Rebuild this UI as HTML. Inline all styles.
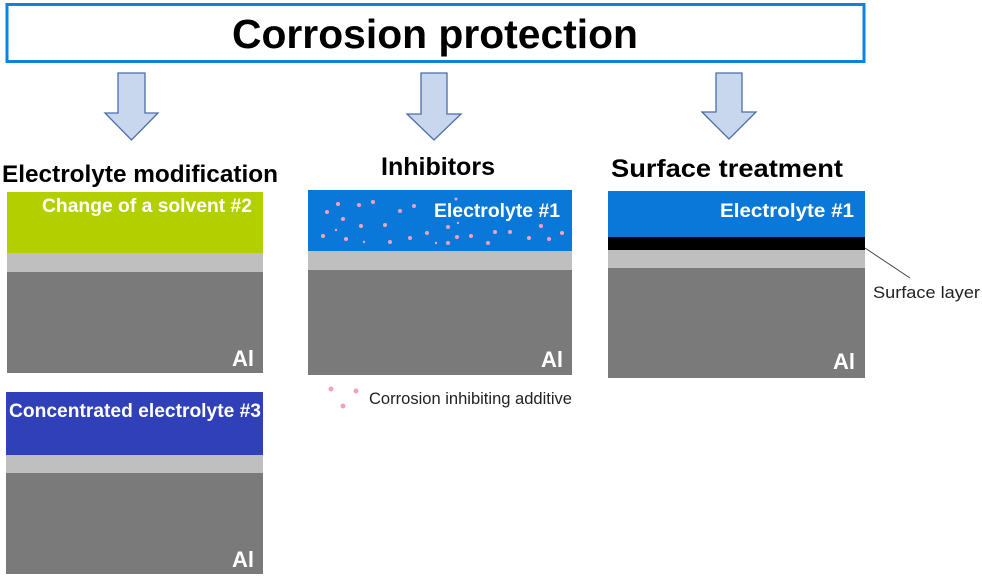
<!DOCTYPE html>
<html><head><style>html,body{margin:0;padding:0;background:#fff}svg{display:block}</style></head>
<body>
<svg width="982" height="576" viewBox="0 0 982 576" xmlns="http://www.w3.org/2000/svg" font-family="Liberation Sans, Arial, sans-serif">
<rect x="7" y="4.5" width="857" height="57" fill="#fff" stroke="#0a84e0" stroke-width="3"/>
<text x="232" y="48" font-size="41" font-weight="bold" fill="#000" textLength="406" lengthAdjust="spacingAndGlyphs">Corrosion protection</text>
<g fill="#c8d6ee" stroke="#4a6ea8" stroke-width="1.3">
<polygon points="118,73 145,73 145,113 158,113 131.5,140 105,113 118,113"/>
<polygon points="421,73 447,73 447,114 461,114 434,140 407,114 421,114"/>
<polygon points="716,73 742,73 742,112 756,112 729,139 702,112 716,112"/>
</g>
<g font-weight="bold" fill="#000">
<text x="2" y="182" font-size="24" textLength="276" lengthAdjust="spacingAndGlyphs">Electrolyte modification</text>
<text x="381" y="175" font-size="25" textLength="114" lengthAdjust="spacingAndGlyphs">Inhibitors</text>
<text x="611" y="177" font-size="25" textLength="232" lengthAdjust="spacingAndGlyphs">Surface treatment</text>
</g>
<rect x="7" y="192" width="256" height="61" fill="#b4cf00"/>
<rect x="7" y="253" width="256" height="19" fill="#bfbfbf"/>
<rect x="7" y="272" width="256" height="101" fill="#7a7a7a"/>
<rect x="6" y="392" width="257" height="63" fill="#3040b8"/>
<rect x="6" y="455" width="257" height="18" fill="#bfbfbf"/>
<rect x="6" y="473" width="257" height="101" fill="#7a7a7a"/>
<rect x="308" y="190" width="264" height="61" fill="#0a78d8"/>
<rect x="308" y="251" width="264" height="19" fill="#bfbfbf"/>
<rect x="308" y="270" width="264" height="105" fill="#7a7a7a"/>
<rect x="608" y="191" width="257" height="46" fill="#0a78d8"/>
<rect x="608" y="237" width="257" height="13" fill="#000"/>
<rect x="608" y="250" width="257" height="18" fill="#bfbfbf"/>
<rect x="608" y="268" width="257" height="110" fill="#7a7a7a"/>
<line x1="865" y1="248" x2="910" y2="278" stroke="#444" stroke-width="1"/>
<text x="873" y="298" font-size="17" fill="#222" textLength="107" lengthAdjust="spacingAndGlyphs">Surface layer</text>
<g fill="#f4a2bc">
<circle cx="338" cy="204" r="2"/><circle cx="359" cy="205" r="2"/><circle cx="373" cy="202" r="2"/>
<circle cx="327" cy="212" r="2"/><circle cx="343" cy="219" r="2"/><circle cx="400" cy="211" r="2"/>
<circle cx="414" cy="206" r="2"/><circle cx="361" cy="226" r="2"/><circle cx="385" cy="225" r="2"/>
<circle cx="336" cy="230" r="1.2"/><circle cx="323" cy="236" r="2"/><circle cx="346" cy="239" r="2"/>
<circle cx="364" cy="242" r="1.2"/><circle cx="390" cy="242" r="2"/><circle cx="410" cy="238" r="2"/>
<circle cx="427" cy="233" r="2"/><circle cx="448" cy="227" r="2"/><circle cx="458" cy="223" r="1.2"/>
<circle cx="457" cy="237" r="2"/><circle cx="448" cy="243" r="2"/><circle cx="436" cy="243" r="1.2"/>
<circle cx="471" cy="236" r="2"/><circle cx="488" cy="243" r="2"/><circle cx="495" cy="232" r="2"/>
<circle cx="510" cy="232" r="2"/><circle cx="529" cy="238" r="2"/><circle cx="541" cy="226" r="2"/>
<circle cx="549" cy="239" r="2"/><circle cx="562" cy="233" r="2"/><circle cx="456" cy="199" r="1.5"/>
<circle cx="331" cy="389" r="2.5"/><circle cx="356" cy="391" r="2.5"/><circle cx="343" cy="406" r="2.5"/>
</g>
<text x="369" y="404" font-size="16.5" fill="#222" textLength="203" lengthAdjust="spacingAndGlyphs">Corrosion inhibiting additive</text>
<g fill="#fff" font-weight="bold">
<text x="42" y="212" font-size="19" textLength="210" lengthAdjust="spacingAndGlyphs">Change of a solvent #2</text>
<text x="9" y="417" font-size="19" textLength="252" lengthAdjust="spacingAndGlyphs">Concentrated electrolyte #3</text>
<text x="434" y="217" font-size="19.5" textLength="126" lengthAdjust="spacingAndGlyphs">Electrolyte #1</text>
<text x="720" y="217" font-size="19.5" textLength="134" lengthAdjust="spacingAndGlyphs">Electrolyte #1</text>
<text x="254" y="366" font-size="22" text-anchor="end">Al</text>
<text x="254" y="567" font-size="22" text-anchor="end">Al</text>
<text x="563" y="367" font-size="22" text-anchor="end">Al</text>
<text x="855" y="369" font-size="22" text-anchor="end">Al</text>
</g>
</svg>
</body></html>
